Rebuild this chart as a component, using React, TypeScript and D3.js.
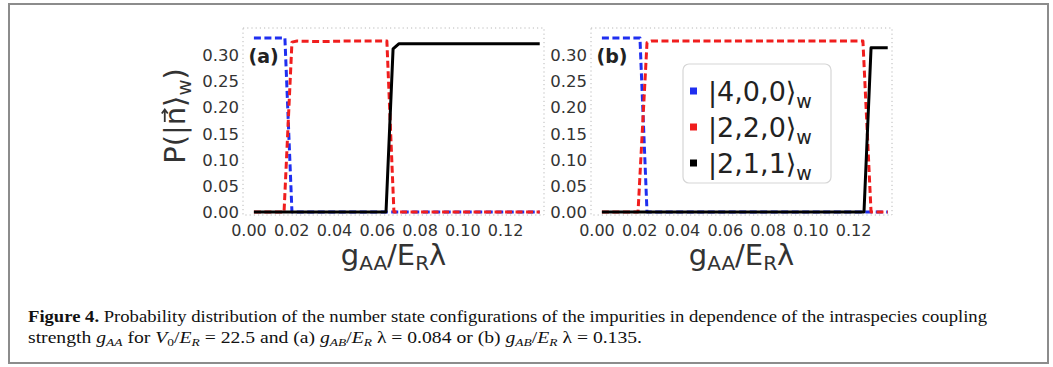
import React from 'react';
import * as d3 from 'd3';

// Tick values shared by both panels
const xTicks = [0, 0.02, 0.04, 0.06, 0.08, 0.1, 0.12];
const yTicks = [0, 0.05, 0.1, 0.15, 0.2, 0.25, 0.3];

// Panel (a): gAB/ER λ = 0.084, points as [gAA, P]
const a400: [number, number][] = [[0.0023, 0.333], [0.0168, 0.333], [0.0201, 0], [0.136, 0]];
const a220: [number, number][] = [[0.0023, 0], [0.0164, 0], [0.0201, 0.325], [0.0225, 0.327], [0.033, 0.326], [0.045, 0.327], [0.0645, 0.327], [0.0678, 0], [0.136, 0]];
const a211: [number, number][] = [[0.0023, 0], [0.0641, 0], [0.0674, 0.312], [0.0702, 0.322], [0.136, 0.322]];

// Panel (b): gAB/ER λ = 0.135
const b400: [number, number][] = [[0.0023, 0.333], [0.0201, 0.333], [0.0234, 0], [0.136, 0]];
const b220: [number, number][] = [[0.0023, 0], [0.0192, 0], [0.0234, 0.324], [0.0253, 0.327], [0.1244, 0.327], [0.1282, 0], [0.136, 0]];
const b211: [number, number][] = [[0.0023, 0], [0.1249, 0], [0.1282, 0.314], [0.136, 0.314]];

const legendStates = ['4,0,0', '2,2,0', '2,1,1'];
const seriesColors = ['#1f2ff0', '#f01e1e', '#000000'];

const FONT = '"DejaVu Sans", sans-serif';
const TICK_SIZE = 16;

type PanelProps = {
  left: number;
  label: string;
  series: [number, number][][];
  legend: boolean;
};

function Panel({ left, label, series, legend }: PanelProps) {
  const width = 301;
  const top = 28;
  const bottom = 215;
  const x = d3.scaleLinear().domain([-0.0028, 0.138]).range([left, left + width]);
  const y = d3.scaleLinear().domain([-0.0057, 0.352]).range([bottom, top]);
  const line = d3
    .line<[number, number]>()
    .x((d) => x(d[0]))
    .y((d) => y(d[1]));
  const fmt = d3.format('.2f');
  // drawing order: blue, red, black on top
  const styles = [
    { color: seriesColors[0], dash: '7,3.5' },
    { color: seriesColors[1], dash: '7,3.5' },
    { color: seriesColors[2], dash: undefined },
  ];
  const cx = left + width / 2;
  return (
    <g>
      <rect x={left} y={top} width={width} height={bottom - top} fill="#fff" stroke="#b8b8b8" strokeWidth={1} strokeDasharray="1.2,3" />
      {series.map((s, i) => (
        <path key={i} d={line(s) || ''} fill="none" stroke={styles[i].color} strokeWidth={3} strokeDasharray={styles[i].dash} strokeLinejoin="round" />
      ))}
      {yTicks.map((t) => (
        <text key={t} x={left - 4} y={y(t)} dy="0.36em" textAnchor="end" fontFamily={FONT} fontSize={16.5} fill="#333">
          {fmt(t)}
        </text>
      ))}
      {xTicks.map((t) => (
        <text key={t} x={x(t)} y={236} textAnchor="middle" fontFamily={FONT} fontSize={TICK_SIZE} fill="#333">
          {fmt(t)}
        </text>
      ))}
      <text x={cx} y={63} dx={-145} fontFamily={FONT} fontSize={19} fontWeight="bold" fill="#222">
        {label}
      </text>
      <text x={cx} y={265} textAnchor="middle" fontFamily={FONT} fontSize={29} fill="#333">
        g<tspan fontSize={20} dy={5}>AA</tspan>
        <tspan dy={-5}>/E</tspan>
        <tspan fontSize={20} dy={5}>R</tspan>
        <tspan dy={-5}>λ</tspan>
      </text>
      {legend && (
        <g>
          <rect x={683} y={64} width={148} height={119} rx={6} fill="#fff" stroke="#d6d6d6" strokeWidth={1.2} />
          {legendStates.map((s, i) => (
            <g key={s}>
              <rect x={690} y={91 + i * 36 - 3.5} width={7} height={7} fill={seriesColors[i]} />
              <text x={708} y={91 + i * 36} dy="0.36em" fontFamily={FONT} fontSize={27} fill="#222">
                |{s}⟩<tspan fontSize={19} dy={7}>w</tspan>
              </text>
            </g>
          ))}
        </g>
      )}
    </g>
  );
}

// y-axis label P(|n⟩_w) with a vector arrow drawn over the n
function YLabel() {
  const fs = 29;
  // DejaVu Sans advance widths (em) for P ( | n ⟩ w ) with a smaller w
  const widths = [0.603, 0.39, 0.337, 0.634, 0.39, 0.818 * 0.68, 0.39];
  const total = widths.reduce((s, w) => s + w, 0) * fs;
  const start = -total / 2;
  const nLeft = start + (widths[0] + widths[1] + widths[2]) * fs;
  const nW = widths[3] * fs;
  const ay = -fs * 0.56 - 4;
  const ax0 = nLeft + nW * 0.18;
  const ax1 = nLeft + nW * 0.86;
  return (
    <g transform="translate(185,116) rotate(-90)">
      <text x={start} y={0} fontFamily={FONT} fontSize={fs} fill="#333">
        P(|n⟩<tspan fontSize={fs * 0.68} dy={6}>w</tspan>
        <tspan dy={-6}>)</tspan>
      </text>
      <path d={`M${ax0},${ay}L${ax1},${ay}M${ax1 - 4},${ay - 3}L${ax1},${ay}L${ax1 - 4},${ay + 3}`} fill="none" stroke="#333" strokeWidth={1.8} />
    </g>
  );
}

export default function App() {
  return (
    <svg width={1053} height={367} style={{ position: 'absolute', left: 0, top: 0, background: '#fff' }}>
      <rect x={0} y={0} width={1053} height={367} fill="#fff" />
      <rect x={9} y={4} width={1039} height={359} fill="#fff" stroke="#8c8c8c" strokeWidth={2} />
      <Panel left={243} label="(a)" series={[a400, a220, a211]} legend={false} />
      <Panel left={591} label="(b)" series={[b400, b220, b211]} legend={true} />
      <YLabel />
      {/* caption */}
      <text x={28} y={322} fontFamily='"Liberation Serif", serif' fontSize={16} fill="#111" textLength={959} lengthAdjust="spacingAndGlyphs">
        <tspan fontWeight="bold">Figure 4.</tspan> Probability distribution of the number state configurations of the impurities in dependence of the intraspecies coupling
      </text>
      <text x={28} y={343} fontFamily='"Liberation Serif", serif' fontSize={16} fill="#111" textLength={614} lengthAdjust="spacingAndGlyphs">
        strength <tspan fontStyle="italic">g</tspan>
        <tspan fontStyle="italic" fontSize={11} dy={3}>AA</tspan>
        <tspan dy={-3}> for </tspan>
        <tspan fontStyle="italic">V</tspan>
        <tspan fontSize={11} dy={3}>0</tspan>
        <tspan dy={-3}>/</tspan>
        <tspan fontStyle="italic">E</tspan>
        <tspan fontStyle="italic" fontSize={11} dy={3}>R</tspan>
        <tspan dy={-3}> = 22.5 and (a) </tspan>
        <tspan fontStyle="italic">g</tspan>
        <tspan fontStyle="italic" fontSize={11} dy={3}>AB</tspan>
        <tspan dy={-3}>/</tspan>
        <tspan fontStyle="italic">E</tspan>
        <tspan fontStyle="italic" fontSize={11} dy={3}>R</tspan>
        <tspan dy={-3}> λ = 0.084 or (b) </tspan>
        <tspan fontStyle="italic">g</tspan>
        <tspan fontStyle="italic" fontSize={11} dy={3}>AB</tspan>
        <tspan dy={-3}>/</tspan>
        <tspan fontStyle="italic">E</tspan>
        <tspan fontStyle="italic" fontSize={11} dy={3}>R</tspan>
        <tspan dy={-3}> λ = 0.135.</tspan>
      </text>
    </svg>
  );
}
